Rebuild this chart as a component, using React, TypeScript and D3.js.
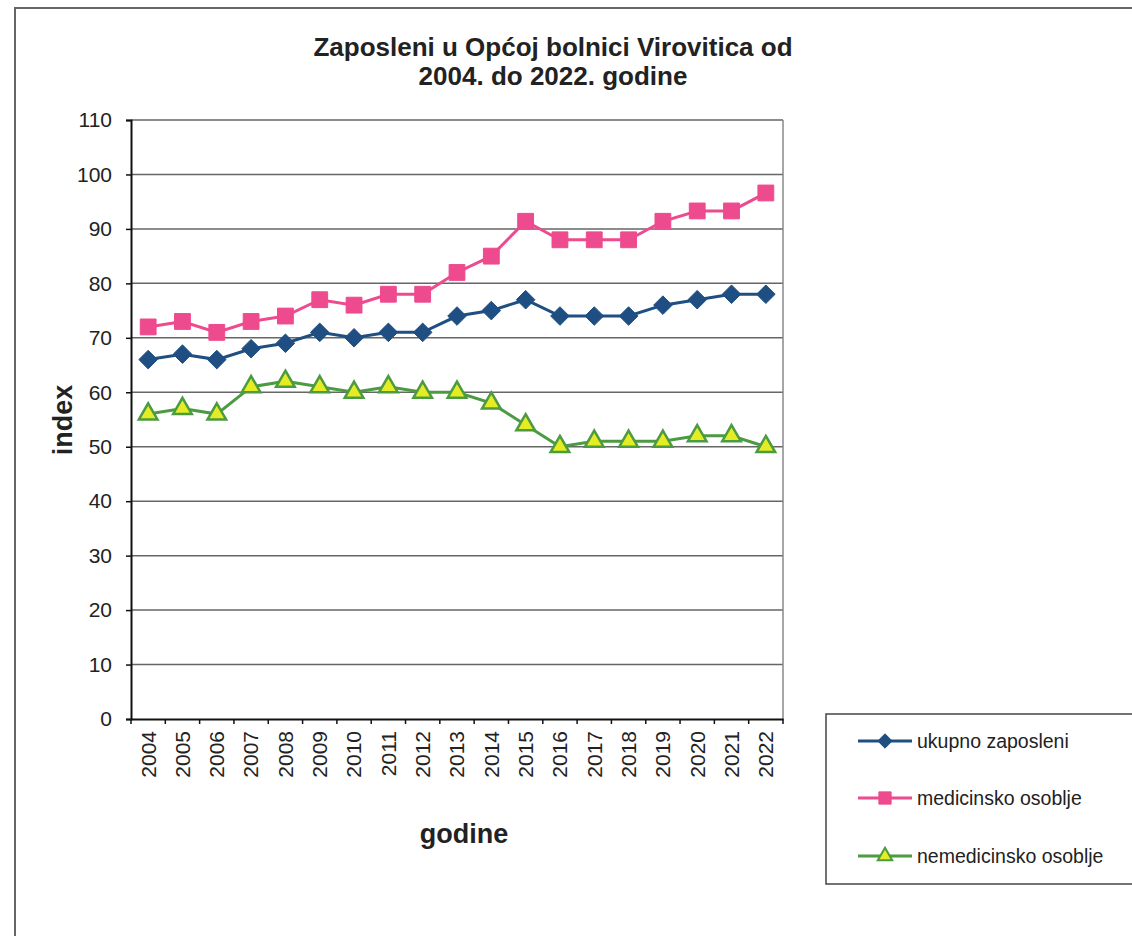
import * as d3 from "d3";
import React, { useEffect, useRef } from "react";

const years = ["2004", "2005", "2006", "2007", "2008", "2009", "2010", "2011", "2012", "2013",
  "2014", "2015", "2016", "2017", "2018", "2019", "2020", "2021", "2022"];
const ukupno = [66, 67, 66, 68, 69, 71, 70, 71, 71, 74, 75, 77, 74, 74, 74, 76, 77, 78, 78];
const medicinsko = [72, 73, 71, 73, 74, 77, 76, 78, 78, 82, 85, 91.4, 88, 88, 88, 91.4, 93.3, 93.3, 96.6];
const nemedicinsko = [56, 57, 56, 61, 62, 61, 60, 61, 60, 60, 58, 54, 50, 51, 51, 51, 52, 52, 50];
const yTicks = [0, 10, 20, 30, 40, 50, 60, 70, 80, 90, 100, 110];
const seriesNames = ["ukupno zaposleni", "medicinsko osoblje", "nemedicinsko osoblje"];

const FONT = "'Liberation Sans', Arial, sans-serif";

export default function App() {
  const ref = useRef<SVGSVGElement>(null);

  useEffect(() => {
    document.body.style.margin = "0";
    const svg = d3.select(ref.current);
    svg.selectAll("*").remove();

    const left = 131, right = 783, top = 120, bottom = 719;

    const x = d3.scaleBand().domain(years).range([left, right]);
    const y = d3.scaleLinear().domain([0, 110]).range([bottom, top]);
    const cx = (d: string) => (x(d) as number) + x.bandwidth() / 2;

    // outer frame
    svg.append("rect")
      .attr("x", 15).attr("y", 8).attr("width", 1130).attr("height", 940)
      .attr("fill", "white").attr("stroke", "#666").attr("stroke-width", 2);

    // title
    const title = svg.append("text")
      .attr("x", 553).attr("y", 56)
      .attr("text-anchor", "middle")
      .style("font-family", FONT).style("font-size", "26px").style("font-weight", "bold")
      .attr("fill", "#222");
    title.append("tspan").attr("x", 553).attr("dy", 0).text("Zaposleni u Općoj bolnici Virovitica od");
    title.append("tspan").attr("x", 553).attr("dy", 29).text("2004. do 2022. godine");

    // gridlines
    svg.append("g").selectAll("line").data(yTicks.filter((t) => t > 0)).join("line")
      .attr("x1", left).attr("x2", right)
      .attr("y1", (d) => y(d)).attr("y2", (d) => y(d))
      .attr("stroke", "#666").attr("stroke-width", 1.5);

    // right border
    svg.append("line")
      .attr("x1", right).attr("x2", right).attr("y1", top).attr("y2", bottom)
      .attr("stroke", "#888").attr("stroke-width", 1.5);

    // y axis
    const yAxis = svg.append("g")
      .attr("transform", `translate(${left},0)`)
      .call(d3.axisLeft(y).tickValues(yTicks).tickSize(5).tickPadding(14));
    yAxis.select(".domain").attr("stroke", "#111").attr("stroke-width", 2);
    yAxis.selectAll(".tick line").attr("stroke", "#111").attr("stroke-width", 1.5);
    yAxis.selectAll("text")
      .style("font-family", FONT).style("font-size", "21px").attr("fill", "#222");

    // x axis
    const xAxis = svg.append("g")
      .attr("transform", `translate(0,${bottom})`)
      .call(d3.axisBottom(x).tickSize(0).tickPadding(0));
    xAxis.select(".domain").attr("stroke", "#111").attr("stroke-width", 2);
    xAxis.selectAll("text")
      .attr("transform", "rotate(-90)")
      .attr("x", -12).attr("y", 0).attr("dy", "0.35em")
      .attr("text-anchor", "end")
      .style("font-family", FONT).style("font-size", "21px").attr("fill", "#222");
    // x tick marks between categories
    svg.append("g").selectAll("line").data(d3.range(years.length + 1)).join("line")
      .attr("x1", (i) => left + i * x.step()).attr("x2", (i) => left + i * x.step())
      .attr("y1", bottom).attr("y2", bottom + 5)
      .attr("stroke", "#111").attr("stroke-width", 1.5);

    // axis titles
    svg.append("text")
      .attr("transform", `translate(72,420) rotate(-90)`)
      .attr("text-anchor", "middle")
      .style("font-family", FONT).style("font-size", "27px").style("font-weight", "bold")
      .attr("fill", "#222").text("index");
    svg.append("text")
      .attr("x", 464).attr("y", 843)
      .attr("text-anchor", "middle")
      .style("font-family", FONT).style("font-size", "27px").style("font-weight", "bold")
      .attr("fill", "#222").text("godine");

    const line = d3.line<number>().x((_, i) => cx(years[i])).y((d) => y(d));

    const series = [
      { data: ukupno, color: "#1f4f82", fill: "#1f4f82", stroke: "#1f4f82", shape: d3.symbolDiamond2, size: 220 },
      { data: medicinsko, color: "#ee4a8e", fill: "#ee4a8e", stroke: "#ee4a8e", shape: d3.symbolSquare, size: 250 },
      { data: nemedicinsko, color: "#4c9a42", fill: "#e5ec24", stroke: "#4c9a42", shape: d3.symbolTriangle, size: 150 },
    ];

    series.forEach((s) => {
      svg.append("path").datum(s.data)
        .attr("d", line).attr("fill", "none")
        .attr("stroke", s.color).attr("stroke-width", 3);
      svg.append("g").selectAll("path").data(s.data).join("path")
        .attr("transform", (d, i) => `translate(${cx(years[i])},${y(d)})`)
        .attr("d", d3.symbol().type(s.shape).size(s.size)())
        .attr("fill", s.fill).attr("stroke", s.stroke).attr("stroke-width", s.shape === d3.symbolTriangle ? 2.5 : 1);
    });

    // legend
    svg.append("rect")
      .attr("x", 826).attr("y", 714).attr("width", 320).attr("height", 170)
      .attr("fill", "white").attr("stroke", "#444").attr("stroke-width", 1.5);
    const legendY = [741, 798, 856];
    series.forEach((s, i) => {
      const g = svg.append("g").attr("transform", `translate(0,${legendY[i]})`);
      g.append("line").attr("x1", 858).attr("x2", 912).attr("y1", 0).attr("y2", 0)
        .attr("stroke", s.color).attr("stroke-width", 3);
      g.append("path").attr("transform", "translate(885,0)")
        .attr("d", d3.symbol().type(s.shape).size(s.size * 0.6)())
        .attr("fill", s.fill).attr("stroke", s.stroke).attr("stroke-width", s.shape === d3.symbolTriangle ? 2 : 1);
      g.append("text").attr("x", 917).attr("y", 0).attr("dy", "0.35em")
        .style("font-family", FONT).style("font-size", "19.5px").attr("fill", "#222")
        .text(seriesNames[i]);
    });
  }, []);

  return <svg ref={ref} width={1132} height={936} style={{ display: "block" }} />;
}
